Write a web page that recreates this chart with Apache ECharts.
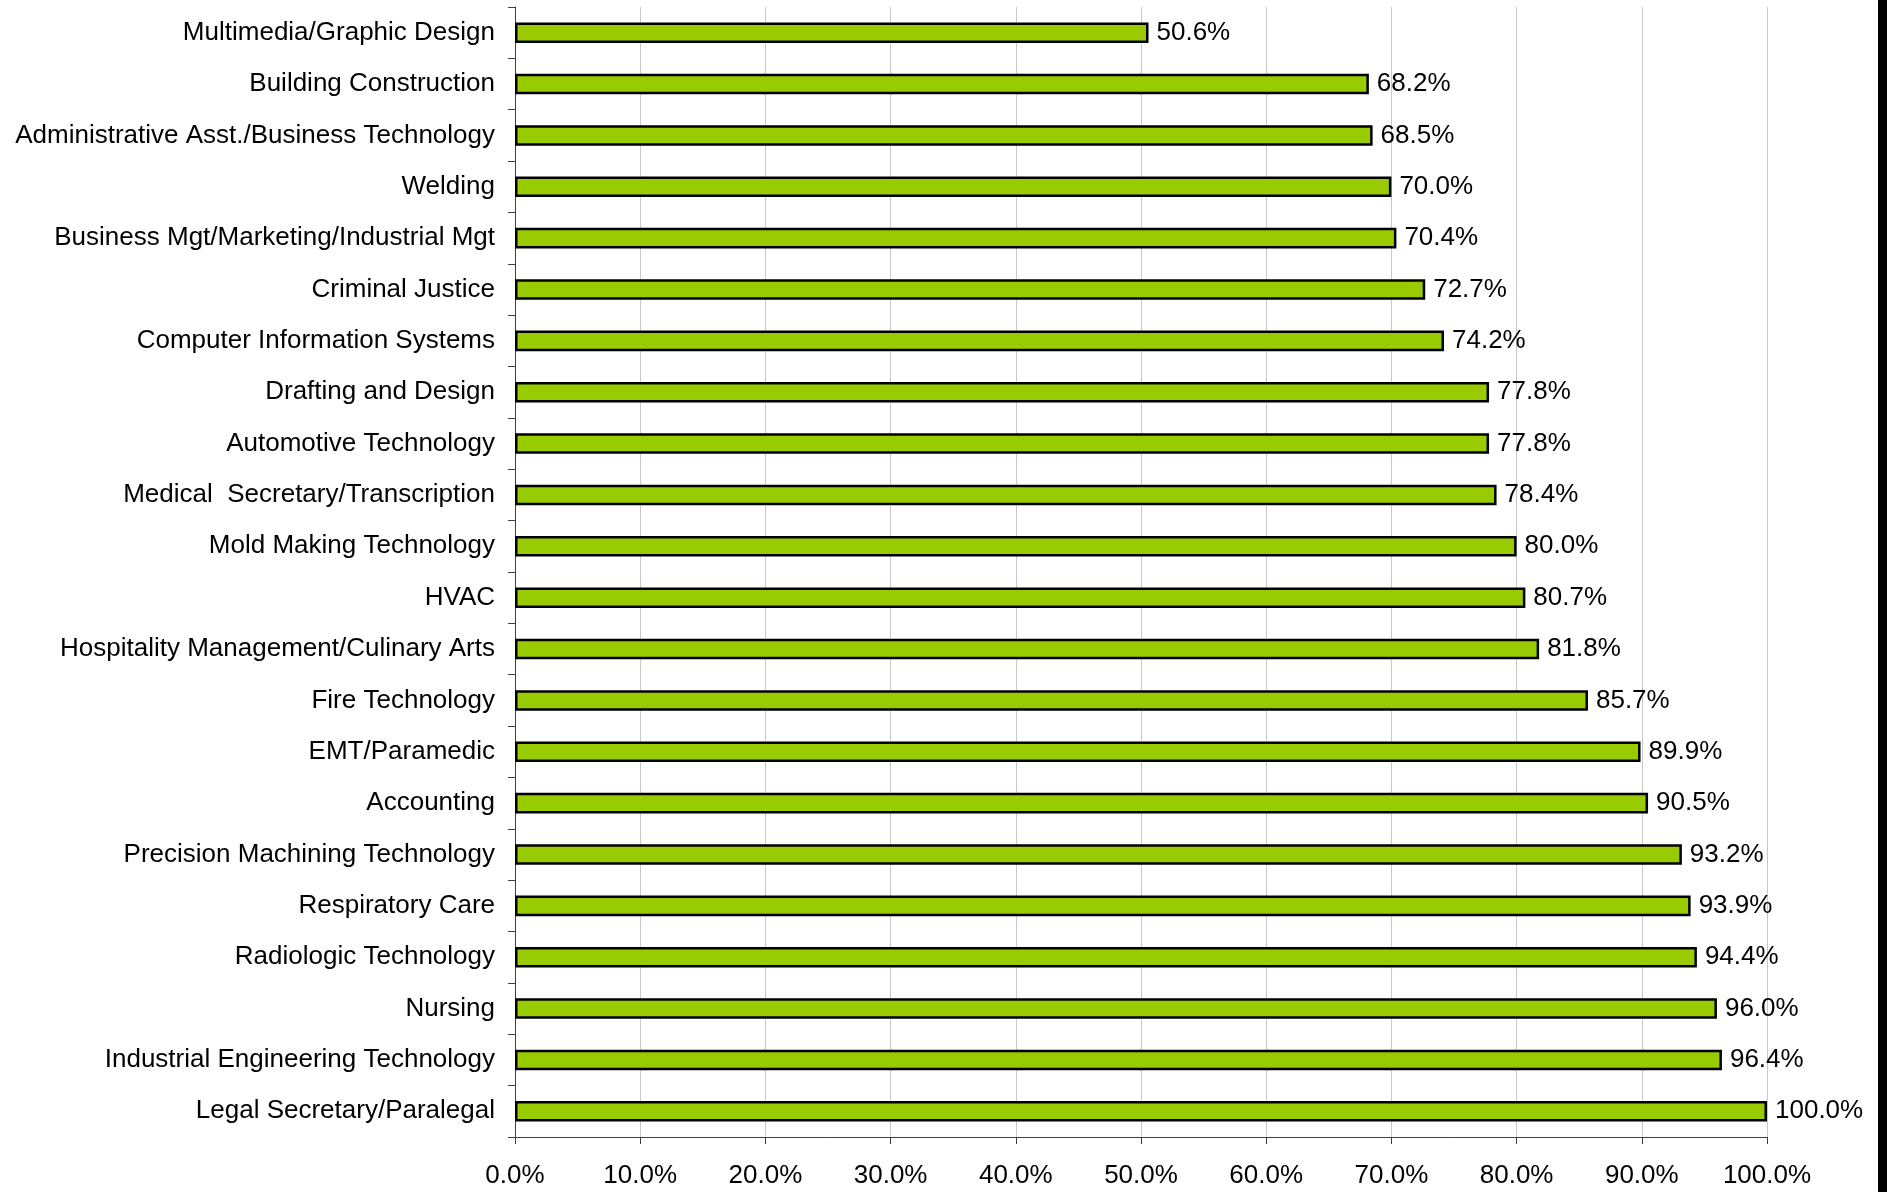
<!DOCTYPE html>
<html>
<head>
<meta charset="utf-8">
<script src="https://cdn.jsdelivr.net/npm/echarts@6/dist/echarts.min.js"></script>
<style>html,body{margin:0;padding:0;background:#fff;}#c{width:1887px;height:1192px;}</style>
</head>
<body>
<div id="c"></div>
<script>
const categories = [
  "Multimedia/Graphic Design",
  "Building Construction",
  "Administrative Asst./Business Technology",
  "Welding",
  "Business Mgt/Marketing/Industrial Mgt",
  "Criminal Justice",
  "Computer Information Systems",
  "Drafting and Design",
  "Automotive Technology",
  "Medical  Secretary/Transcription",
  "Mold Making Technology",
  "HVAC",
  "Hospitality Management/Culinary Arts",
  "Fire Technology",
  "EMT/Paramedic",
  "Accounting",
  "Precision Machining Technology",
  "Respiratory Care",
  "Radiologic Technology",
  "Nursing",
  "Industrial Engineering Technology",
  "Legal Secretary/Paralegal"
];
const values = [50.6, 68.2, 68.5, 70.0, 70.4, 72.7, 74.2, 77.8, 77.8, 78.4, 80.0, 80.7, 81.8, 85.7, 89.9, 90.5, 93.2, 93.9, 94.4, 96.0, 96.4, 100.0];
const xTicks = [0, 10, 20, 30, 40, 50, 60, 70, 80, 90, 100];

const font = "Liberation Sans, Arial, sans-serif";
const chart = echarts.init(document.getElementById('c'), null, {renderer: 'canvas'});
chart.setOption({
  animation: false,
  backgroundColor: '#ffffff',
  grid: {left: 515, right: 120, top: 7, bottom: 55, containLabel: false},
  xAxis: {
    type: 'value',
    min: xTicks[0], max: xTicks[xTicks.length - 1], interval: 10,
    axisLine: {show: true, lineStyle: {color: '#404040', width: 1}},
    axisTick: {show: true, length: 7, lineStyle: {color: '#404040'}},
    splitLine: {show: true, lineStyle: {color: '#c8c8c8', width: 1}},
    axisLabel: {margin: 26, color: '#000', fontFamily: font, fontSize: 26, formatter: v => v.toFixed(1) + '%'}
  },
  yAxis: {
    type: 'category',
    data: categories,
    inverse: true,
    axisLine: {show: true, lineStyle: {color: '#404040', width: 1}},
    axisTick: {show: true, length: 7, lineStyle: {color: '#404040'}},
    axisLabel: {margin: 20, color: '#000', fontFamily: font, fontSize: 26, padding: [3, 0, 0, 0]}
  },
  series: [{
    type: 'bar',
    data: values,
    barWidth: '40%',
    itemStyle: {color: '#99cc00', borderColor: '#000', borderWidth: 2.5},
    label: {show: true, position: 'right', distance: 8, color: '#000', fontFamily: font, fontSize: 26, padding: [3, 0, 0, 0], formatter: p => p.value.toFixed(1) + '%'}
  }],
  graphic: [{type: 'rect', right: 0, top: 0, shape: {width: 9, height: 1192}, style: {fill: '#000'}}]
});
</script>
</body>
</html>
